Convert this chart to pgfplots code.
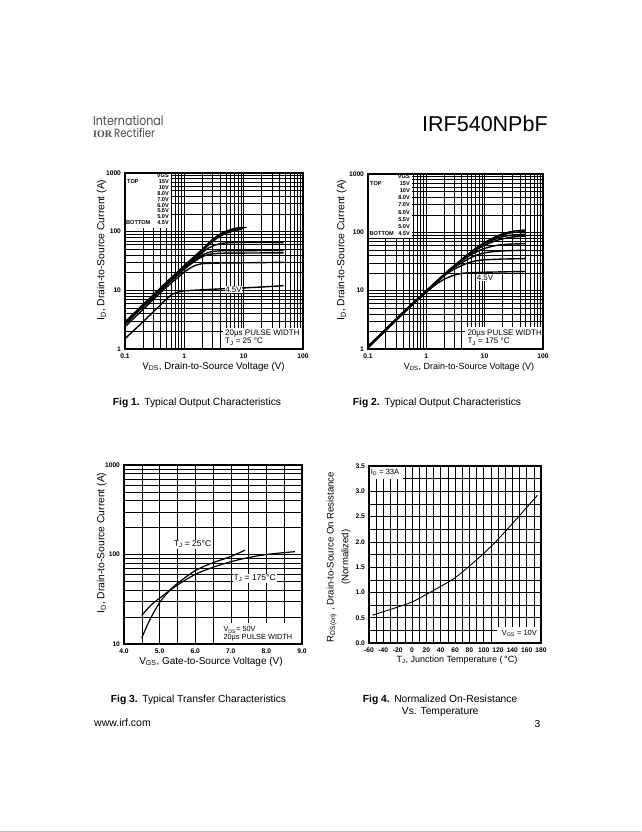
\documentclass[border=0pt]{standalone}
\usepackage{pgfplots}
\pgfplotsset{compat=1.18}
\usepackage{fontspec}
\setmainfont{Liberation Sans}
\newfontfamily\logofont[FakeStretch=0.85]{Poppins}
\newfontfamily\logoserif{Liberation Serif}
\newcommand{\fs}[1]{\fontsize{#1}{#1}\selectfont}

\pgfplotsset{
  dsbase/.style={
    scale only axis, anchor=north west,
    axis line style={line width=1.1pt},
    grid=both,
    major grid style={black, line width=0.5pt},
    minor grid style={black, line width=0.5pt},
    major tick length=0pt, minor tick length=0pt,
    tick label style={font=\fs{6.7}\bfseries},
    xticklabel style={yshift=-1pt},
    yticklabel style={xshift=-0.5pt},
    cycle list={{black,solid,mark=none}},
    every axis plot post/.append style={black, solid, mark=none, smooth},
  },
}

\begin{document}
\begin{tikzpicture}
\path[use as bounding box] (0,0) rectangle (641pt,-832pt);
\fill[white] (0,0) rectangle (641pt,-832pt);
\fill[black!27] (0,-831pt) rectangle (641pt,-832pt);

% ---------- header ----------
\node[anchor=base west, inner sep=0, font=\logofont\fs{13}, text=black!70] at (93pt,-125pt) {International};
\node[anchor=base west, inner sep=0, font=\fs{12}, text=black!70] at (93pt,-137.5pt) {{\logoserif\bfseries\fs{10}IOR}\,{\logofont Rectifier}};
\node[anchor=base west, inner sep=0, font=\fs{21.5}] at (422pt,-131.5pt) {IRF540NPbF};

% ---------- Fig 1 ----------
\begin{axis}[dsbase, at={(125pt,-173pt)}, width=178pt, height=176pt,
  xmode=log, ymode=log, xmin=0.1, xmax=100, ymin=1, ymax=1000,
  xtick={0.1,1,10,100}, xticklabels={0.1,1,10,100},
  ytick={1,10,100,1000}, yticklabels={1,10,100,1000},
  minor xtick={0.2,0.3,0.4,0.5,0.6,0.7,0.8,0.9,2,3,4,5,6,7,8,9,20,30,40,50,60,70,80,90},
  minor ytick={2,3,4,5,6,7,8,9,20,30,40,50,60,70,80,90,200,300,400,500,600,700,800,900},
  every axis plot post/.append style={line width=1.4pt}]
\addplot coordinates {(0.1,2.9) (0.15,4.3) (0.2,5.7) (0.3,8.4) (0.5,13.8) (0.7,19) (1,26.5) (1.5,38.5) (2,50) (3,74) (4,91) (5,101) (6,108) (7,113) (8,116) (9,117.5) (11.2,118)};
\addplot coordinates {(0.1,2.85) (0.15,4.2) (0.2,5.6) (0.3,8.25) (0.5,13.5) (0.7,18.6) (1,26) (1.5,37.5) (2,48.5) (3,71) (4,87) (5,97) (6,104) (7,109) (8,112) (10,114)};
\addplot coordinates {(0.1,2.8) (0.15,4.1) (0.2,5.5) (0.3,8.1) (0.5,13.2) (0.7,18.2) (1,25.3) (1.5,36.5) (2,47) (3,68) (4,83) (5,93) (6,99) (7,104) (8,107) (9,109)};
\addplot coordinates {(0.1,2.75) (0.2,5.4) (0.3,7.9) (0.5,12.9) (0.7,17.7) (1,24.5) (1.5,35) (2,44) (2.5,52) (3,57) (4,62.5) (5,64.3) (7,65.3) (10,65.7) (20,65.5) (47,65)};
\addplot coordinates {(0.1,2.7) (0.2,5.3) (0.3,7.8) (0.5,12.6) (0.7,17.2) (1,23.6) (1.5,33) (2,40) (2.5,44) (3,46) (4,47.2) (5,47.5) (10,47.6) (20,47.7) (47,48)};
\addplot coordinates {(0.1,2.65) (0.2,5.2) (0.3,7.6) (0.5,12.3) (0.7,16.7) (1,22.8) (1.5,31.5) (2,37.5) (2.5,40.5) (3,42) (4,42.8) (5,43) (10,43.2) (20,43.4) (47,43.6)};
\addplot coordinates {(0.1,2.4) (0.2,4.7) (0.3,7) (0.5,11.3) (0.7,15.2) (1,20.5) (1.3,24.5) (1.6,27) (2,28.4) (3,29) (5,29.3) (10,29.5) (20,29.7) (47,30)};
\addplot coordinates {(0.1,1.5) (0.15,2.2) (0.2,2.9) (0.3,4.3) (0.4,5.7) (0.5,7.1) (0.6,8.3) (0.7,9) (0.8,9.4) (1,9.8) (2,10.2) (5,10.7) (10,11) (20,11.4) (47,12)};
\end{axis}
% legend box fig1
\fill[white] (125.6pt,-173.6pt) rectangle (170.5pt,-227.5pt);
\begin{scope}[every node/.style={inner sep=0, font=\fs{5.6}\bfseries}]
\node[anchor=east] at (169pt,-176pt) {VGS};
\node[anchor=west] at (127pt,-182pt) {TOP};
\node[anchor=east] at (169pt,-182pt) {15V};
\node[anchor=east] at (169pt,-187.8pt) {10V};
\node[anchor=east] at (169pt,-193.6pt) {8.0V};
\node[anchor=east] at (169pt,-199.4pt) {7.0V};
\node[anchor=east] at (169pt,-205.2pt) {6.0V};
\node[anchor=east] at (169pt,-211pt) {5.5V};
\node[anchor=east] at (169pt,-216.8pt) {5.0V};
\node[anchor=west] at (126pt,-223pt) {BOTTOM};
\node[anchor=east] at (169pt,-223pt) {4.5V};
\end{scope}
\fill[white] (223pt,-328pt) rectangle (302.4pt,-348.4pt);
\node[anchor=west, inner sep=0, font=\fs{8}] at (225pt,-333.5pt) {20µs PULSE WIDTH};
\node[anchor=west, inner sep=0, font=\fs{8}] at (225pt,-341.7pt) {T\textsubscript{J} = 25 °C};
\node[fill=white, inner sep=0.6pt, font=\fs{8}] at (233.5pt,-289.5pt) {4.5V};
\draw[line width=1.1pt] (125pt,-173pt) rectangle (303pt,-349pt);
\node[rotate=90, font=\fs{10.3}] at (101.7pt,-250pt) {I\textsubscript{D}, Drain-to-Source Current (A)};
\node[font=\fs{9.8}] at (213.5pt,-366.7pt) {V\textsubscript{DS}, Drain-to-Source Voltage (V)};

% ---------- Fig 2 ----------
\begin{axis}[dsbase, at={(368pt,-174pt)}, width=175pt, height=175pt,
  xmode=log, ymode=log, xmin=0.1, xmax=100, ymin=1, ymax=1000,
  xtick={0.1,1,10,100}, xticklabels={0.1,1,10,100},
  ytick={1,10,100,1000}, yticklabels={1,10,100,1000},
  minor xtick={0.2,0.3,0.4,0.5,0.6,0.7,0.8,0.9,2,3,4,5,6,7,8,9,20,30,40,50,60,70,80,90},
  minor ytick={2,3,4,5,6,7,8,9,20,30,40,50,60,70,80,90,200,300,400,500,600,700,800,900},
  every axis plot post/.append style={line width=1.4pt}]
\addplot coordinates {(0.1,1.12) (0.15,1.65) (0.2,2.2) (0.3,3.25) (0.5,5.3) (0.7,7.2) (1,10) (1.5,14.6) (2,19) (3,27) (5,41) (7,53) (10,67) (15,83) (20,94) (30,104) (50,110)};
\addplot coordinates {(0.1,1.11) (0.2,2.17) (0.5,5.25) (1,9.9) (2,18.8) (3,26.7) (5,40.5) (7,52) (10,65.5) (15,80) (20,90) (30,99) (50,104)};
\addplot coordinates {(0.1,1.1) (0.2,2.14) (0.5,5.18) (1,9.75) (2,18.5) (3,26.4) (5,39.5) (7,51) (10,63.5) (15,76) (20,84) (30,90) (50,93)};
\addplot coordinates {(0.1,1.09) (0.2,2.13) (0.5,5.15) (1,9.7) (2,18.4) (3,26.3) (5,39) (7,49.5) (10,60) (15,71) (20,77) (30,83) (50,86)};
\addplot coordinates {(0.1,1.08) (0.2,2.12) (0.5,5.12) (1,9.65) (2,18.3) (3,26) (5,37.5) (7,45.5) (10,53) (15,59) (20,61.5) (30,63) (50,64)};
\addplot coordinates {(0.1,1.07) (0.2,2.1) (0.5,5.1) (1,9.6) (2,18.2) (3,25) (5,34) (7,40) (10,44.5) (15,47) (20,48) (30,48.7) (50,49.3)};
\addplot coordinates {(0.1,1.06) (0.2,2.08) (0.5,5.05) (1,9.5) (2,17.8) (3,23.3) (5,29.5) (7,32.3) (10,33.8) (20,34.8) (50,35.5)};
\addplot coordinates {(0.1,1.05) (0.2,2.05) (0.5,5) (1,9.4) (1.5,13) (2,15.6) (3,18.5) (4,19.7) (5,20.2) (10,20.7) (20,21) (50,21.3)};
\end{axis}
\fill[white] (368.6pt,-174.6pt) rectangle (411.5pt,-238pt);
\begin{scope}[every node/.style={inner sep=0, font=\fs{5.6}\bfseries}]
\node[anchor=east] at (410pt,-176.5pt) {VGS};
\node[anchor=west] at (370pt,-183.5pt) {TOP};
\node[anchor=east] at (410pt,-183.5pt) {15V};
\node[anchor=east] at (410pt,-190.6pt) {10V};
\node[anchor=east] at (410pt,-197.8pt) {8.0V};
\node[anchor=east] at (410pt,-205pt) {7.0V};
\node[anchor=east] at (410pt,-212.2pt) {6.0V};
\node[anchor=east] at (410pt,-219.4pt) {5.5V};
\node[anchor=east] at (410pt,-226.6pt) {5.0V};
\node[anchor=west] at (369.5pt,-233.8pt) {BOTTOM};
\node[anchor=east] at (410pt,-233.8pt) {4.5V};
\end{scope}
\fill[white] (465pt,-327pt) rectangle (542.4pt,-348.4pt);
\node[anchor=west, inner sep=0, font=\fs{8}] at (467.3pt,-333.3pt) {20µs PULSE WIDTH};
\node[anchor=west, inner sep=0, font=\fs{8}] at (467.3pt,-341.7pt) {T\textsubscript{J} = 175 °C};
\node[fill=white, inner sep=0.6pt, font=\fs{8}] at (485pt,-277.5pt) {4.5V};
\draw[line width=1.1pt] (368pt,-174pt) rectangle (543pt,-349pt);
\node[rotate=90, font=\fs{10.3}] at (341.7pt,-250pt) {I\textsubscript{D}, Drain-to-Source Current (A)};
\node[font=\fs{9}] at (469pt,-366.7pt) {V\textsubscript{DS}, Drain-to-Source Voltage (V)};

% ---------- Fig 3 ----------
\begin{axis}[dsbase, at={(124pt,-465pt)}, width=178pt, height=179pt,
  ymode=log, xmin=4, xmax=9, ymin=10, ymax=1000,
  xtick={4,5,6,7,8,9}, xticklabels={4.0,5.0,6.0,7.0,8.0,9.0},
  minor xtick={4.5,5.5,6.5,7.5,8.5},
  ytick={10,100,1000}, yticklabels={10,100,1000},
  minor ytick={20,30,40,50,60,70,80,90,200,300,400,500,600,700,800,900},
  every axis plot post/.append style={line width=1.2pt}]
\addplot coordinates {(4.5,11.7) (4.6,14.5) (4.75,19.5) (5.0,29) (5.25,38.5) (5.5,47.5) (6.0,66) (6.5,81) (7.0,95) (7.4,112)};
\addplot coordinates {(4.5,20.9) (4.75,27) (5.0,32.6) (5.5,45.5) (6.0,60) (6.5,72) (7.0,83) (7.5,92.5) (8.0,100) (8.5,105) (8.8,107.5)};
\end{axis}
\node[fill=white, inner sep=0.8pt, font=\fs{8.5}] at (192.5pt,-544.3pt) {T\textsubscript{J} = 25°C};
\node[fill=white, inner sep=0.8pt, font=\fs{8.5}] at (254.7pt,-578.3pt) {T\textsubscript{J} = 175°C};
\fill[white] (221pt,-623pt) rectangle (301.4pt,-643.4pt);
\node[anchor=west, inner sep=0, font=\fs{7.4}] at (223.3pt,-630pt) {V\textsubscript{DS}= 50V};
\node[anchor=west, inner sep=0, font=\fs{7.4}] at (223.3pt,-637.7pt) {20µs PULSE WIDTH};
\draw[line width=1.1pt] (124pt,-465pt) rectangle (302pt,-644pt);
\node[rotate=90, font=\fs{10.3}] at (101.7pt,-543pt) {I\textsubscript{D}, Drain-to-Source Current (A)};
\node[font=\fs{10}] at (211pt,-661.7pt) {V\textsubscript{GS}, Gate-to-Source Voltage (V)};

% ---------- Fig 4 ----------
\begin{axis}[dsbase, at={(369pt,-466pt)}, width=172pt, height=177pt,
  xmin=-60, xmax=180, ymin=0, ymax=3.5,
  xtick={-60,-40,...,180}, xticklabels={-60,-40,-20,0,20,40,60,80,100,120,140,160,180},
  minor xtick={-50,-30,...,170},
  ytick={0,0.5,...,3.5}, yticklabels={0.0,0.5,1.0,1.5,2.0,2.5,3.0,3.5},
  minor ytick={0.25,0.75,...,3.25},
  every axis plot post/.append style={line width=0.9pt}]
\addplot coordinates {(-55,0.55) (-40,0.62) (-20,0.71) (0,0.81) (25,1.0) (40,1.12) (60,1.29) (80,1.52) (100,1.77) (120,2.05) (140,2.36) (160,2.68) (175,2.92)};
\end{axis}
\fill[white] (369.6pt,-466.6pt) rectangle (403pt,-479pt);
\node[anchor=west, inner sep=0, font=\fs{7.5}] at (370.7pt,-472.7pt) {I\textsubscript{D} = 33A};
\fill[white] (497pt,-627pt) rectangle (540.4pt,-642.4pt);
\node[anchor=west, inner sep=0, font=\fs{7.5}] at (501.7pt,-633.3pt) {V\textsubscript{GS} = 10V};
\draw[line width=1.1pt] (369pt,-466pt) rectangle (541pt,-643pt);
\node[rotate=90, font=\fs{9.6}] at (331.7pt,-557pt) {R\textsubscript{DS(on)} , Drain-to-Source On Resistance};
\node[rotate=90, font=\fs{9.6}] at (346pt,-557pt) {(Normalized)};
\node[font=\fs{9}] at (457pt,-660pt) {T\textsubscript{J}, Junction Temperature (\,°C)};

% ---------- captions & footer ----------
\node[anchor=base west, inner sep=0, font=\fs{10.3}] at (112.7pt,-405.5pt) {\textbf{Fig 1.}\hspace{4.5pt}Typical Output Characteristics};
\node[anchor=base west, inner sep=0, font=\fs{10.3}] at (352.7pt,-405.5pt) {\textbf{Fig 2.}\hspace{4.5pt}Typical Output Characteristics};
\node[anchor=base west, inner sep=0, font=\fs{10.3}] at (110.7pt,-702pt) {\textbf{Fig 3.}\hspace{4.5pt}Typical Transfer Characteristics};
\node[anchor=base west, inner sep=0, font=\fs{10.3}] at (362.7pt,-702pt) {\textbf{Fig 4.}\hspace{4.5pt}Normalized On-Resistance};
\node[anchor=base west, inner sep=0, font=\fs{10.3}] at (401.7pt,-714.3pt) {Vs. Temperature};
\node[anchor=base west, inner sep=0, font=\fs{10.5}] at (94pt,-726.7pt) {www.irf.com};
\node[anchor=base west, inner sep=0, font=\fs{10.2}] at (534.3pt,-727.3pt) {3};
\end{tikzpicture}
\end{document}
